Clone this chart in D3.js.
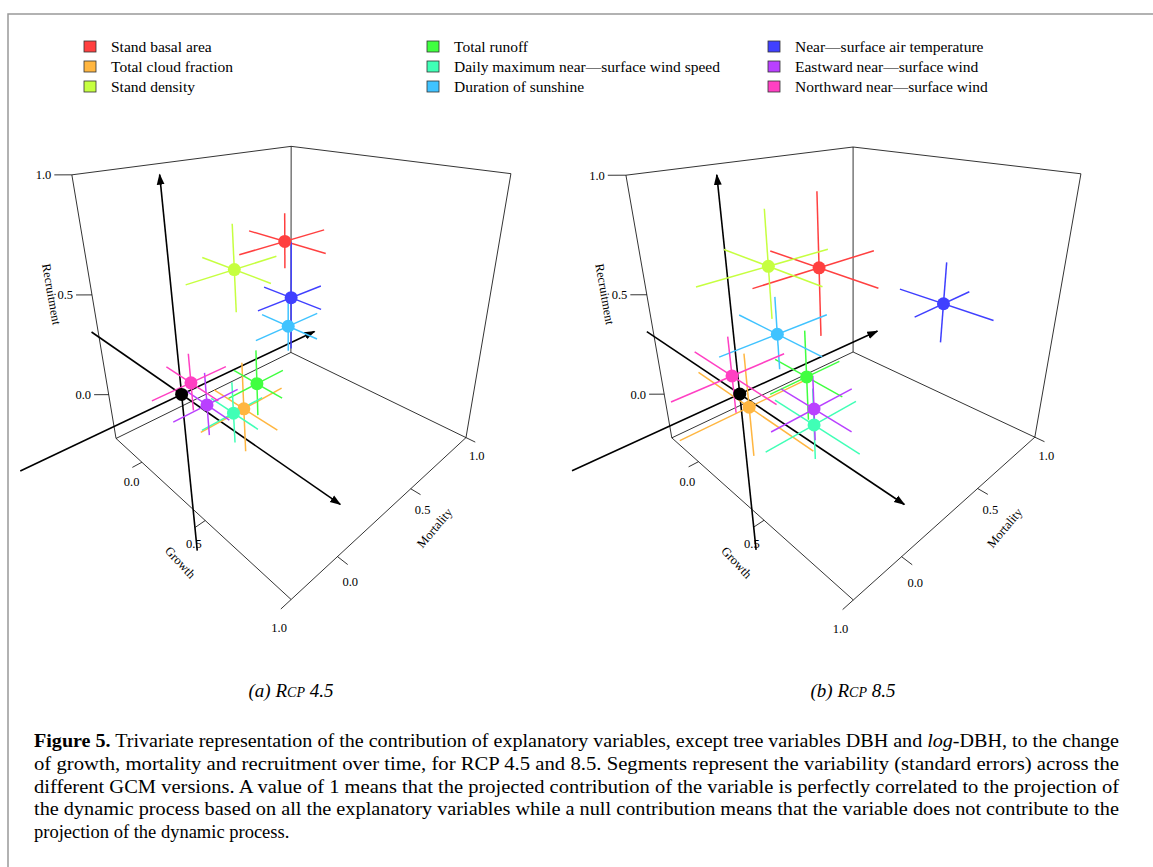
<!DOCTYPE html>
<html>
<head>
<meta charset="utf-8">
<script src="https://cdn.jsdelivr.net/npm/d3@7"></script>
<style>
  body { margin: 0; background: #fff; }
  svg text { font-family: "Liberation Serif", "Times New Roman", "DejaVu Serif", serif; }
</style>
</head>
<body>
<div id="chart"></div>
<script>
// variables (legend order)
const varNames = ['Stand basal area', 'Total cloud fraction', 'Stand density',
  'Total runoff', 'Daily maximum near\u2014surface wind speed', 'Duration of sunshine',
  'Near\u2014surface air temperature', 'Eastward near\u2014surface wind', 'Northward near\u2014surface wind'];
const varColors = ['#ff4040', '#ffb640', '#c6ff40', '#40ff40', '#40ffb6', '#40c3ff', '#4040ff', '#b940ff', '#ff40c3'];

// contributions [growth, mortality, recruitment] and standard errors, per variable
const rcp45 = [[0.30, 0.41, 0.71], [0.20, 0.22, -0.09], [0.15, 0.24, 0.59], [0.20, 0.31, 0.01], [0.18, 0.17, -0.10],
  [0.26, 0.47, 0.28], [0.28, 0.47, 0.43], [0.12, 0.06, -0.03], [0.06, 0.02, 0.08]];
const rcp45se = [[0.24, 0.26, 0.12], [0.24, 0.26, 0.25], [0.24, 0.26, 0.20], [0.18, 0.18, 0.18], [0.18, 0.19, 0.17],
  [0.19, 0.21, 0.13], [0.19, 0.21, 0.26], [0.17, 0.19, 0.17], [0.21, 0.21, 0.15]];
const rcp85 = [[0.21, 0.33, 0.59], [0.07, 0.00, -0.04], [0.06, 0.17, 0.60], [0.13, 0.30, 0.02], [0.28, 0.21, -0.14],
  [0.12, 0.15, 0.30], [0.63, 0.68, 0.44], [0.26, 0.23, -0.07], [0.00, -0.03, 0.11]];
const rcp85se = [[0.35, 0.35, 0.33], [0.45, 0.35, 0.28], [0.35, 0.35, 0.25], [0.25, 0.22, 0.25], [0.30, 0.28, 0.20],
  [0.30, 0.30, 0.18], [0.25, 0.20, 0.19], [0.25, 0.25, 0.18], [0.33, 0.30, 0.20]];

// axis stuff
const axisMin = -0.25, axisMax = 1.0;
const tickValues = [0.0, 0.5, 1.0];
// principal arrows [from, to] in (growth, mortality, recruitment)
const arrows = [[[0, 0, -1.0], [0, 0, 1.0]], [[0, -0.75, 0], [0, 0.95, 0]], [[-0.95, 0, 0], [1.0, 0, 0]]];

// where the box corners land on the page (one set per panel)
const panels = [
  { title: '(a) ', sub: '4.5', pts: rcp45, se: rcp45se, cx: 291,
    corners: { lb: [116, 438], fr: [291, 600], bk: [291, 353], rb: [466, 437], tl: [72, 175], tb: [291, 146], tr: [511, 174] } },
  { title: '(b) ', sub: '8.5', pts: rcp85, se: rcp85se, cx: 853,
    corners: { lb: [672, 438], fr: [853, 600], bk: [853, 352], rb: [1035, 437], tl: [626, 175], tb: [853, 147], tr: [1081, 174] } }
];

const W = 1153, H = 867;
const svg = d3.select('#chart').append('svg').attr('width', W).attr('height', H);
svg.append('defs').append('marker')
  .attr('id', 'arr').attr('viewBox', '0 0 10 10').attr('refX', 9).attr('refY', 5)
  .attr('markerWidth', 7).attr('markerHeight', 7).attr('orient', 'auto-start-reverse')
  .append('path').attr('d', 'M0,1.5L10,5L0,8.5z').attr('fill', '#000');

// frame
svg.append('path').attr('d', `M8,${H}V14H${W}`).attr('fill', 'none').attr('stroke', '#999').attr('stroke-width', 1.5);

// legend
const legX = [84, 427, 768];
varNames.forEach((n, i) => {
  const col = Math.floor(i / 3), row = i % 3;
  const g = svg.append('g').attr('transform', `translate(${legX[col]},${47 + row * 20})`);
  g.append('rect').attr('x', 0).attr('y', -6).attr('width', 12).attr('height', 11)
    .attr('fill', varColors[i]).attr('stroke', '#333').attr('stroke-width', 0.8);
  g.append('text').attr('x', 27).attr('y', 5).attr('font-size', 15.5).text(n);
});

// fit a 3x4 camera matrix from box corners (least squares DLT)
function fitCamera(c) {
  const a = axisMin, b = axisMax;
  const corr = [[[a, a, a], c.lb], [[b, a, a], c.fr], [[a, b, a], c.bk], [[b, b, a], c.rb],
    [[a, a, b], c.tl], [[a, b, b], c.tb], [[b, b, b], c.tr]];
  const rows = [], rhs = [];
  corr.forEach(([[X, Y, Z], [x, y]]) => {
    rows.push([X, Y, Z, 1, 0, 0, 0, 0, -x * X, -x * Y, -x * Z]); rhs.push(x);
    rows.push([0, 0, 0, 0, X, Y, Z, 1, -y * X, -y * Y, -y * Z]); rhs.push(y);
  });
  const n = 11;
  const M = d3.range(n).map(i => d3.range(n + 1).map(j =>
    d3.sum(rows, (r, k) => r[i] * (j < n ? r[j] : rhs[k]))));
  for (let i = 0; i < n; i++) {
    let p = i;
    for (let k = i + 1; k < n; k++) if (Math.abs(M[k][i]) > Math.abs(M[p][i])) p = k;
    [M[i], M[p]] = [M[p], M[i]];
    for (let k = 0; k < n; k++) {
      if (k === i) continue;
      const f = M[k][i] / M[i][i];
      for (let j = i; j <= n; j++) M[k][j] -= f * M[i][j];
    }
  }
  const P = d3.range(n).map(i => M[i][n] / M[i][i]);
  return ([X, Y, Z]) => {
    const w = P[8] * X + P[9] * Y + P[10] * Z + 1;
    return [(P[0] * X + P[1] * Y + P[2] * Z + P[3]) / w, (P[4] * X + P[5] * Y + P[6] * Z + P[7]) / w];
  };
}

const line = d3.line();
const lo = axisMin, hi = axisMax;

panels.forEach(p => {
  const proj = fitCamera(p.corners);
  const g = svg.append('g');
  const seg = (A, B, w, col) => g.append('path').attr('d', line([proj(A), proj(B)]))
    .attr('stroke', col || '#000').attr('stroke-width', w || 1).attr('fill', 'none');

  // box edges (three back faces)
  [[[lo, lo, lo], [hi, lo, lo]], [[hi, lo, lo], [hi, hi, lo]], [[lo, lo, lo], [lo, hi, lo]], [[lo, hi, lo], [hi, hi, lo]],
   [[lo, lo, lo], [lo, lo, hi]], [[lo, hi, lo], [lo, hi, hi]], [[hi, hi, lo], [hi, hi, hi]],
   [[lo, lo, hi], [lo, hi, hi]], [[lo, hi, hi], [hi, hi, hi]]]
    .forEach(([A, B]) => seg(A, B, 0.8));

  // ticks and labels
  tickValues.forEach(t => {
    seg([t, lo, lo], [t, lo - 0.05, lo], 0.8);
    const a = proj([t, lo - 0.1, lo]);
    g.append('text').attr('x', a[0] + 9).attr('y', a[1] + 6).attr('text-anchor', 'middle').attr('dy', '0.6em')
      .attr('font-size', 12.5).text(t.toFixed(1));
    seg([hi, t, lo], [hi + 0.05, t, lo], 0.8);
    const b = proj([hi + 0.1, t, lo]);
    g.append('text').attr('x', b[0] - 8).attr('y', b[1] + 6).attr('text-anchor', 'middle').attr('dy', '0.6em')
      .attr('font-size', 12.5).text(t.toFixed(1));
    seg([lo, lo, t], [lo - 0.05, lo - 0.05, t], 0.8);
    const c = proj([lo - 0.05, lo - 0.05, t]);
    g.append('text').attr('x', c[0] - 3).attr('y', c[1]).attr('text-anchor', 'end').attr('dy', '0.35em')
      .attr('font-size', 12.5).text(t.toFixed(1));
  });
  const gt = proj([0.55, lo - 0.3, lo]);
  g.append('text').attr('transform', `translate(${gt[0] + 30},${gt[1] - 8}) rotate(47)`).attr('text-anchor', 'middle')
    .attr('font-size', 12.5).text('Growth');
  const mt = proj([hi + 0.3, 0.62, lo]);
  g.append('text').attr('transform', `translate(${mt[0] - 50},${mt[1] + 20}) rotate(-50)`).attr('text-anchor', 'middle')
    .attr('font-size', 12.5).text('Mortality');
  const rt = proj([lo - 0.14, lo - 0.14, 0.5]);
  g.append('text').attr('transform', `translate(${rt[0]},${rt[1]}) rotate(80)`).attr('text-anchor', 'middle')
    .attr('font-size', 12.5).text('Recruitment');

  // arrows
  arrows.forEach(([A, B]) => seg(A, B, 1.6).attr('marker-end', 'url(#arr)'));

  // error segments then points
  p.pts.forEach((v, i) => {
    [0, 1, 2].forEach(k => {
      const A = v.slice(), B = v.slice();
      A[k] -= p.se[i][k]; B[k] += p.se[i][k];
      seg(A, B, 1.5, varColors[i]);
    });
  });
  p.pts.forEach((v, i) => {
    const q = proj(v);
    g.append('circle').attr('cx', q[0]).attr('cy', q[1]).attr('r', 6.5).attr('fill', varColors[i]);
  });
  const o = proj([0, 0, 0]);
  g.append('circle').attr('cx', o[0]).attr('cy', o[1]).attr('r', 6.5).attr('fill', '#000');

  // panel title
  const tt = g.append('text').attr('x', p.cx).attr('y', 697).attr('text-anchor', 'middle')
    .attr('font-size', 19).attr('font-style', 'italic');
  tt.append('tspan').text(p.title);
  tt.append('tspan').text('R');
  tt.append('tspan').attr('font-size', 14).text('CP');
  tt.append('tspan').text(' ' + p.sub);
});

// caption
const cap = [
  [['b', 'Figure 5.'], ['', ' Trivariate representation of the contribution of explanatory variables, except tree variables DBH and '], ['i', 'log'], ['', '-DBH, to the change']],
  [['', 'of growth, mortality and recruitment over time, for RCP 4.5 and 8.5. Segments represent the variability (standard errors) across the']],
  [['', 'different GCM versions. A value of 1 means that the projected contribution of the variable is perfectly correlated to the projection of']],
  [['', 'the dynamic process based on all the explanatory variables while a null contribution means that the variable does not contribute to the']],
  [['', 'projection of the dynamic process.']]
];
cap.forEach((parts, i) => {
  const t = svg.append('text').attr('x', 34).attr('y', 747 + i * 22.8).attr('font-size', 18.5);
  if (i < 4) t.attr('textLength', 1085).attr('lengthAdjust', 'spacingAndGlyphs');
  parts.forEach(([s, str]) => {
    const sp = t.append('tspan').text(str);
    if (s === 'b') sp.attr('font-weight', 'bold');
    if (s === 'i') sp.attr('font-style', 'italic');
  });
});
</script>
</body>
</html>
